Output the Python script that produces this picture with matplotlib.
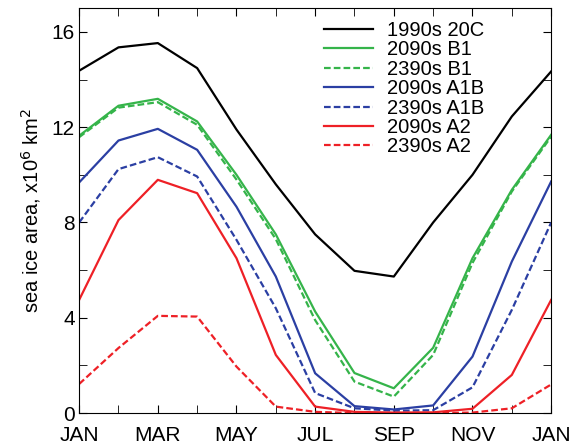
import matplotlib
matplotlib.use("Agg")
import matplotlib.pyplot as plt
from matplotlib.ticker import MultipleLocator

plt.rcParams["font.family"] = ["Liberation Sans", "DejaVu Sans"]

months = list(range(13))
month_labels = ["JAN", "MAR", "MAY", "JUL", "SEP", "NOV", "JAN"]

ice_1990s_20c = [14.37, 15.35, 15.53, 14.48, 11.9, 9.6, 7.5, 5.97, 5.73, 8.0, 10.0, 12.45, 14.34]
ice_2090s_b1 = [11.64, 12.9, 13.19, 12.24, 10.0, 7.5, 4.26, 1.68, 1.04, 2.74, 6.5, 9.37, 11.68]
ice_2390s_b1 = [11.58, 12.82, 13.05, 12.1, 9.8, 7.3, 3.9, 1.32, 0.69, 2.44, 6.3, 9.3, 11.6]
ice_2090s_a1b = [9.68, 11.44, 11.93, 11.05, 8.66, 5.73, 1.67, 0.29, 0.15, 0.32, 2.37, 6.36, 9.72]
ice_2390s_a1b = [8.0, 10.24, 10.74, 9.93, 7.27, 4.4, 0.84, 0.2, 0.1, 0.12, 1.08, 4.33, 8.0]
ice_2090s_a2 = [4.75, 8.1, 9.79, 9.23, 6.5, 2.44, 0.27, 0.05, 0.02, 0.03, 0.18, 1.6, 4.75]
ice_2390s_a2 = [1.22, 2.73, 4.08, 4.05, 1.95, 0.27, 0.05, 0.0, 0.0, 0.0, 0.02, 0.2, 1.2]

series = [
    ("1990s 20C", ice_1990s_20c, "black", "-"),
    ("2090s B1", ice_2090s_b1, "#35b44a", "-"),
    ("2390s B1", ice_2390s_b1, "#35b44a", "--"),
    ("2090s A1B", ice_2090s_a1b, "#2b3fa3", "-"),
    ("2390s A1B", ice_2390s_a1b, "#2b3fa3", "--"),
    ("2090s A2", ice_2090s_a2, "#ee2026", "-"),
    ("2390s A2", ice_2390s_a2, "#ee2026", "--"),
]

fig = plt.figure(figsize=(5.82, 4.48), dpi=100)
ax = fig.add_axes([0.136, 0.078, 0.811, 0.904])

for label, vals, color, ls in series:
    kw = {"dashes": (3, 1.4)} if ls == "--" else {}
    ax.plot(months, vals, color=color, linestyle=ls, lw=1.6, label=label, **kw)

ax.set_xlim(0, 12)
ax.set_ylim(0, 17)
ax.set_xticks(range(0, 13, 2))
ax.set_xticklabels(month_labels)
ax.xaxis.set_minor_locator(MultipleLocator(1))
ax.set_yticks([0, 4, 8, 12, 16])
ax.yaxis.set_minor_locator(MultipleLocator(2))
ax.tick_params(which="both", direction="in", top=True, right=True, labelsize=15, length=6)
ax.tick_params(axis="x", pad=9)
ax.tick_params(axis="y", pad=3)
ax.set_ylabel("sea ice area, x10$^6$ km$^2$", fontsize=14.5, labelpad=6)

ax.legend(loc="upper left", frameon=False, fontsize=14.5, handlelength=2.45,
          handletextpad=0.65, labelspacing=0.02, borderaxespad=0.0,
          borderpad=0.0, bbox_to_anchor=(0.519, 0.968))

fig.savefig("out.png", dpi=100)
